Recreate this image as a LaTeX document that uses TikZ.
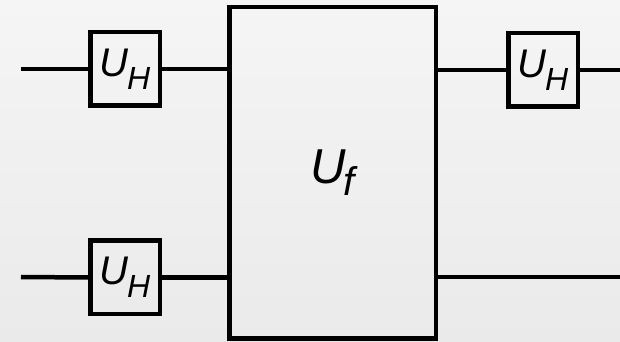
\documentclass[tikz,border=0pt]{standalone}
\usepackage{fontspec}
\setmainfont{Liberation Sans}
\definecolor{bgtop}{HTML}{F5F5F5}
\definecolor{bgbot}{HTML}{EAEAEA}
% gate label: main letter with a lowered, smaller subscript
\newcommand{\gatelbl}[5]{{\itshape\fontsize{#1}{#1}\selectfont #3\kern-1.5pt\raisebox{-#5}{\fontsize{#2}{#2}\selectfont #4}}}
\begin{document}
\begin{tikzpicture}[x=1pt,y=1pt,
  wire/.style={line width=4.5pt},
  gate/.style={draw, line width=4.5pt, inner sep=0pt, minimum width=69.5pt, minimum height=73.5pt}]
  \shade[top color=bgtop, bottom color=bgbot] (0,0) rectangle (620,342);
  \useasboundingbox (0,0) rectangle (620,342);

  % gates
  \node[gate] (h1) at (125,273) {\gatelbl{40}{32}{U}{H}{13pt}};
  \node[gate] (h2) at (125,64.5) {\gatelbl{40}{32}{U}{H}{13pt}};
  \node[gate] (h3) at (543,272) {\gatelbl{40}{32}{U}{H}{13pt}};
  \node[draw, line width=4.5pt, inner sep=0pt, minimum width=206.5pt, minimum height=331.5pt]
    (uf) at (332.5,169) {\gatelbl{49}{40}{U}{f}{12pt}};

  % free wire ends
  \coordinate (in1) at (21,273);
  \coordinate (in2) at (21,65);
  \coordinate (out1) at (620,272);
  \coordinate (out2) at (620,65);

  % wires
  \draw[wire] (in1) -- (h1.west);
  \draw[wire] (h1.east) -- (h1.east -| uf.west);
  \draw[wire] (in2) -- (h2.west);
  \draw[wire] (h2.east) -- (h2.east -| uf.west);
  \draw[wire] (h3.west -| uf.east) -- (h3.west);
  \draw[wire] (h3.east) -- (out1);
  \draw[wire] (out2 -| uf.east) -- (out2);
\end{tikzpicture}
\end{document}
